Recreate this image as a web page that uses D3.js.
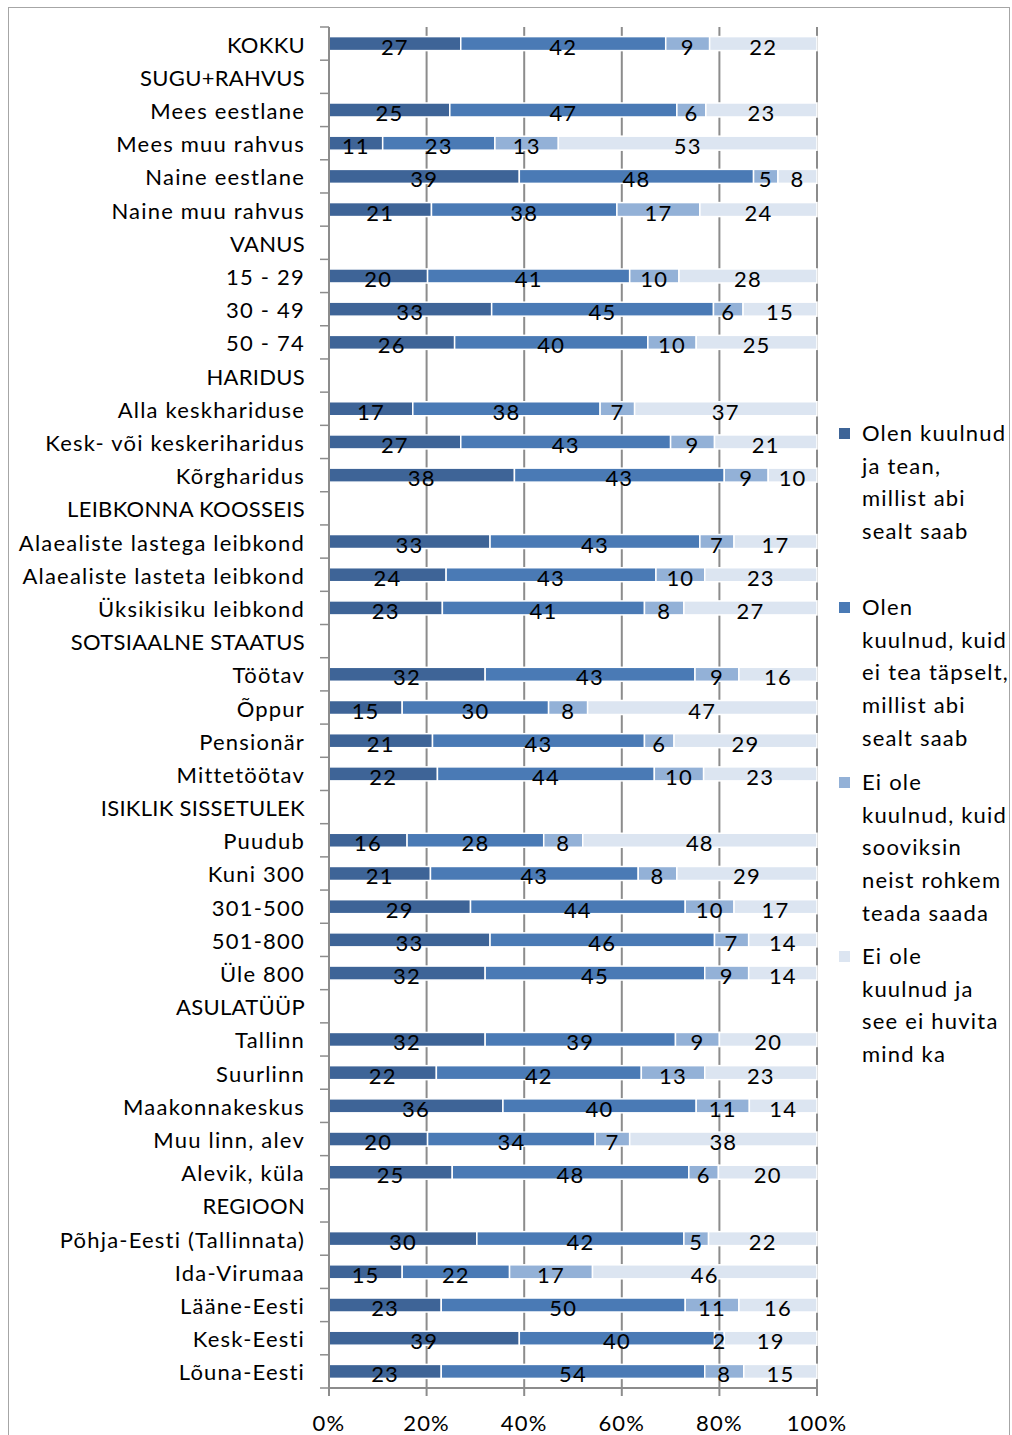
<!DOCTYPE html>
<html>
<head>
<meta charset="utf-8">
<script src="https://cdn.jsdelivr.net/npm/d3@7"></script>
<style>
  body { margin: 0; background: #fff; }
  text { font-family: Lato, "Open Sans", sans-serif; fill: #000; letter-spacing: 1.2px; }
</style>
</head>
<body>
<svg id="chart"></svg>
<script>
// rows of the chart; group headers have no values (null)
const categories = [
  "KOKKU", "SUGU+RAHVUS", "Mees eestlane", "Mees muu rahvus", "Naine eestlane", "Naine muu rahvus",
  "VANUS", "15 - 29", "30 - 49", "50 - 74",
  "HARIDUS", "Alla keskhariduse", "Kesk- või keskeriharidus", "Kõrgharidus",
  "LEIBKONNA KOOSSEIS", "Alaealiste lastega leibkond", "Alaealiste lasteta leibkond", "Üksikisiku leibkond",
  "SOTSIAALNE STAATUS", "Töötav", "Õppur", "Pensionär", "Mittetöötav",
  "ISIKLIK SISSETULEK", "Puudub", "Kuni 300", "301-500", "501-800", "Üle 800",
  "ASULATÜÜP", "Tallinn", "Suurlinn", "Maakonnakeskus", "Muu linn, alev", "Alevik, küla",
  "REGIOON", "Põhja-Eesti (Tallinnata)", "Ida-Virumaa", "Lääne-Eesti", "Kesk-Eesti", "Lõuna-Eesti"
];
const heardAndKnow = [27, null, 25, 11, 39, 21, null, 20, 33, 26, null, 17, 27, 38, null, 33, 24, 23,
  null, 32, 15, 21, 22, null, 16, 21, 29, 33, 32, null, 32, 22, 36, 20, 25, null, 30, 15, 23, 39, 23];
const heardNotSure = [42, null, 47, 23, 48, 38, null, 41, 45, 40, null, 38, 43, 43, null, 43, 43, 41,
  null, 43, 30, 43, 44, null, 28, 43, 44, 46, 45, null, 39, 42, 40, 34, 48, null, 42, 22, 50, 40, 54];
const notHeardWant = [9, null, 6, 13, 5, 17, null, 10, 6, 10, null, 7, 9, 9, null, 7, 10, 8,
  null, 9, 8, 6, 10, null, 8, 8, 10, 7, 9, null, 9, 13, 11, 7, 6, null, 5, 17, 11, 2, 8];
const notHeardNoInterest = [22, null, 23, 53, 8, 24, null, 28, 15, 25, null, 37, 21, 10, null, 17, 23, 27,
  null, 16, 47, 29, 23, null, 48, 29, 17, 14, 14, null, 20, 23, 14, 38, 20, null, 22, 46, 16, 19, 15];

const seriesNames = [
  ["Olen kuulnud", "ja tean,", "millist abi", "sealt saab"],
  ["Olen", "kuulnud, kuid", "ei tea täpselt,", "millist abi", "sealt saab"],
  ["Ei ole", "kuulnud, kuid", "sooviksin", "neist rohkem", "teada saada"],
  ["Ei ole", "kuulnud ja", "see ei huvita", "mind ka"]
];
const colors = ["#3e6497", "#4a7ab5", "#93b1d7", "#dce5f1"];
const xTicks = [0, 0.2, 0.4, 0.6, 0.8, 1];

const width = 1012, height = 1435;
const margin = { top: 27, left: 329, plotW: 488, plotH: 1361 };
const fs = 22;

const keys = ["a", "b", "c", "d"];
const rows = categories.map((c, i) => ({
  cat: c,
  header: heardAndKnow[i] === null,
  a: heardAndKnow[i] || 0,
  b: heardNotSure[i] || 0,
  c: notHeardWant[i] || 0,
  d: notHeardNoInterest[i] || 0
}));

const svg = d3.select("#chart").attr("width", width).attr("height", height);

// outer frame
svg.append("rect")
  .attr("x", 8.5).attr("y", 7.5)
  .attr("width", 1001).attr("height", 1450)
  .attr("fill", "none").attr("stroke", "#a6a6a6").attr("stroke-width", 1);

const x = d3.scaleLinear().domain([0, 1]).range([margin.left, margin.left + margin.plotW]);
const y = d3.scaleBand().domain(categories).range([margin.top, margin.top + margin.plotH]).padding(0);
const barH = 14;

// gridlines
svg.append("g").selectAll("line")
  .data(xTicks.slice(1))
  .join("line")
  .attr("x1", d => x(d)).attr("x2", d => x(d))
  .attr("y1", margin.top).attr("y2", margin.top + margin.plotH)
  .attr("stroke", "#8c8c8c").attr("stroke-width", 2);

const stacked = d3.stack().keys(keys).offset(d3.stackOffsetExpand)(rows);

const bars = svg.append("g");
stacked.forEach((layer, k) => {
  bars.append("g").selectAll("rect")
    .data(layer.filter(d => !d.data.header))
    .join("rect")
    .attr("x", d => x(d[0]))
    .attr("width", d => x(d[1]) - x(d[0]))
    .attr("y", d => y(d.data.cat) + (y.bandwidth() - barH) / 2)
    .attr("height", barH)
    .attr("fill", colors[k])
    .attr("stroke", "#fff")
    .attr("stroke-width", 1.5);
});

// value labels
const labels = svg.append("g");
stacked.forEach((layer, k) => {
  labels.append("g").selectAll("text")
    .data(layer.filter(d => !d.data.header))
    .join("text")
    .attr("x", d => x((d[0] + d[1]) / 2))
    .attr("y", d => y(d.data.cat) + y.bandwidth() / 2 + 11)
    .attr("text-anchor", "middle")
    .attr("font-size", fs)
    .text(d => d.data[keys[k]]);
});

// left axis
const isCaps = s => /[A-ZÕÄÖÜ]/.test(s) && s === s.toUpperCase();
const yAxis = svg.append("g").attr("transform", `translate(${margin.left},0)`);
yAxis.append("line")
  .attr("y1", margin.top).attr("y2", margin.top + margin.plotH)
  .attr("stroke", "#8c8c8c").attr("stroke-width", 2);
yAxis.selectAll(".tk")
  .data(d3.range(categories.length + 1))
  .join("line")
  .attr("x1", -9).attr("x2", 0)
  .attr("y1", i => margin.top + i * y.step())
  .attr("y2", i => margin.top + i * y.step())
  .attr("stroke", "#8c8c8c").attr("stroke-width", 1.5);
yAxis.selectAll("text")
  .data(categories)
  .join("text")
  .attr("x", -24)
  .attr("y", d => y(d) + y.bandwidth() / 2 + 9)
  .attr("text-anchor", "end")
  .attr("font-size", fs)
  .style("letter-spacing", d => isCaps(d) ? "0.3px" : null)
  .text(d => d);

// bottom axis
const xAxis = svg.append("g").attr("transform", `translate(0,${margin.top + margin.plotH})`);
xAxis.append("line")
  .attr("x1", x(0)).attr("x2", x(1))
  .attr("stroke", "#8c8c8c").attr("stroke-width", 2);
xAxis.selectAll("line.tk")
  .data(xTicks)
  .join("line")
  .attr("class", "tk")
  .attr("x1", d => x(d)).attr("x2", d => x(d))
  .attr("y1", 0).attr("y2", 8)
  .attr("stroke", "#8c8c8c").attr("stroke-width", 2);
xAxis.selectAll("text")
  .data(xTicks)
  .join("text")
  .attr("x", d => x(d))
  .attr("y", 43)
  .attr("text-anchor", "middle")
  .attr("font-size", fs)
  .text(d => d3.format(".0%")(d));

// legend
const legendTop = [433, 607, 782, 956];
const legend = svg.append("g");
seriesNames.forEach((lines, k) => {
  const g = legend.append("g");
  g.append("rect")
    .attr("x", 839).attr("y", legendTop[k] - 5)
    .attr("width", 11).attr("height", 11)
    .attr("fill", colors[k]);
  g.append("text")
    .attr("x", 862)
    .attr("y", legendTop[k] + 8)
    .attr("font-size", fs)
    .selectAll("tspan")
    .data(lines)
    .join("tspan")
    .attr("x", 862)
    .attr("dy", (d, i) => i === 0 ? 0 : 32.7)
    .text(d => d);
});
</script>
</body>
</html>
